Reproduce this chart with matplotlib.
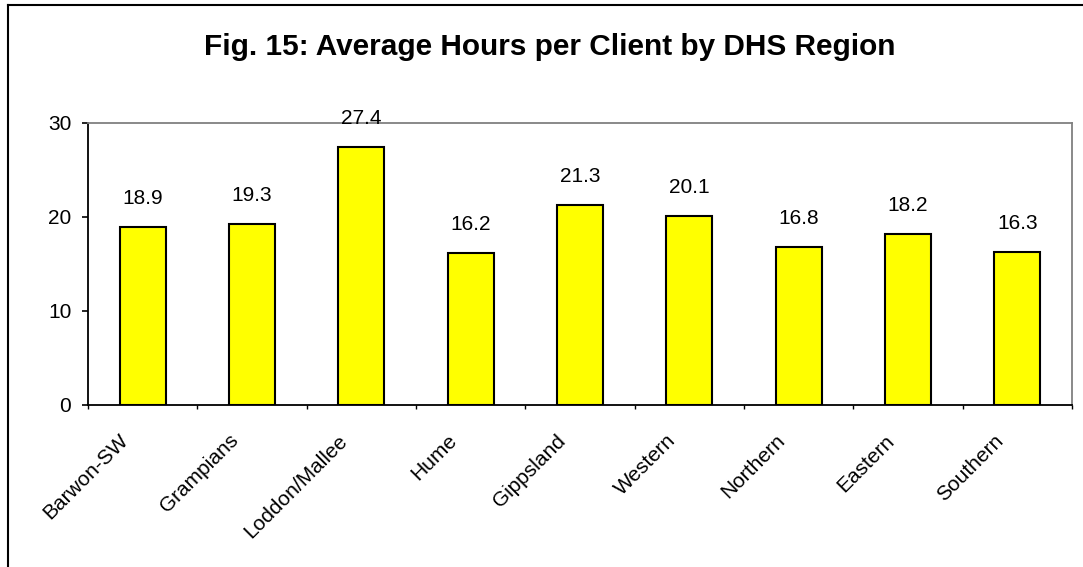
import matplotlib
matplotlib.use("Agg")
import matplotlib.pyplot as plt
from matplotlib.lines import Line2D
from matplotlib.transforms import ScaledTranslation

regions = ["Barwon-SW", "Grampians", "Loddon/Mallee", "Hume", "Gippsland",
           "Western", "Northern", "Eastern", "Southern"]
hours = [18.9, 19.3, 27.4, 16.2, 21.3, 20.1, 16.8, 18.2, 16.3]
yticks = [0, 10, 20, 30]
title = "Fig. 15: Average Hours per Client by DHS Region"

plt.rcParams['font.family'] = ['Liberation Sans', 'DejaVu Sans']

fig = plt.figure(figsize=(10.83, 5.67), dpi=100)
ax = fig.add_axes([88/1083, 1-405/567, (1072-88)/1083, (405-123)/567])

x = list(range(len(regions)))
bars = ax.bar(x, hours, width=0.42, color='#FFFF00', edgecolor='black', linewidth=1.5, zorder=3)
for xi, v in zip(x, hours):
    ax.annotate(f"{v}", (xi, v), xytext=(0, 20.5), textcoords='offset points',
                ha='center', va='center', fontsize=15)

ax.set_xlim(-0.5, len(regions) - 0.5)
ax.set_ylim(0, 30)
ax.set_yticks(yticks)
ax.set_yticklabels([str(t) for t in yticks], fontsize=15)
ax.tick_params(axis='y', direction='out', length=4.5, width=1.2, pad=7.5)

ax.set_xticks([i - 0.5 for i in range(len(regions) + 1)])
ax.set_xticklabels([])
ax.tick_params(axis='x', direction='out', length=3, width=1.0)
ax.set_xticks(x, minor=True)
ax.set_xticklabels(regions, minor=True, rotation=45, ha='right', va='center',
                   rotation_mode='anchor', fontsize=15)
ax.tick_params(axis='x', which='minor', length=0, pad=23.5)
shift = ScaledTranslation(-17/100, 0, fig.dpi_scale_trans)
for lab in ax.get_xticklabels(minor=True):
    lab.set_transform(lab.get_transform() + shift)

for s in ['left', 'bottom']:
    ax.spines[s].set_color('black')
    ax.spines[s].set_linewidth(1.3)
for s in ['top', 'right']:
    ax.spines[s].set_color('#808080')
    ax.spines[s].set_linewidth(1.3)

fig.text(550/1083, 1-55/567, title, ha='center', va='baseline', fontsize=21.4, fontweight='bold')

fig.add_artist(Line2D([8/1083, 8/1083], [0, 1-5/567], transform=fig.transFigure, color='black', lw=1.5))
fig.add_artist(Line2D([8/1083, 1], [1-5/567, 1-5/567], transform=fig.transFigure, color='black', lw=1.5))

fig.savefig("out.png", dpi=100)
